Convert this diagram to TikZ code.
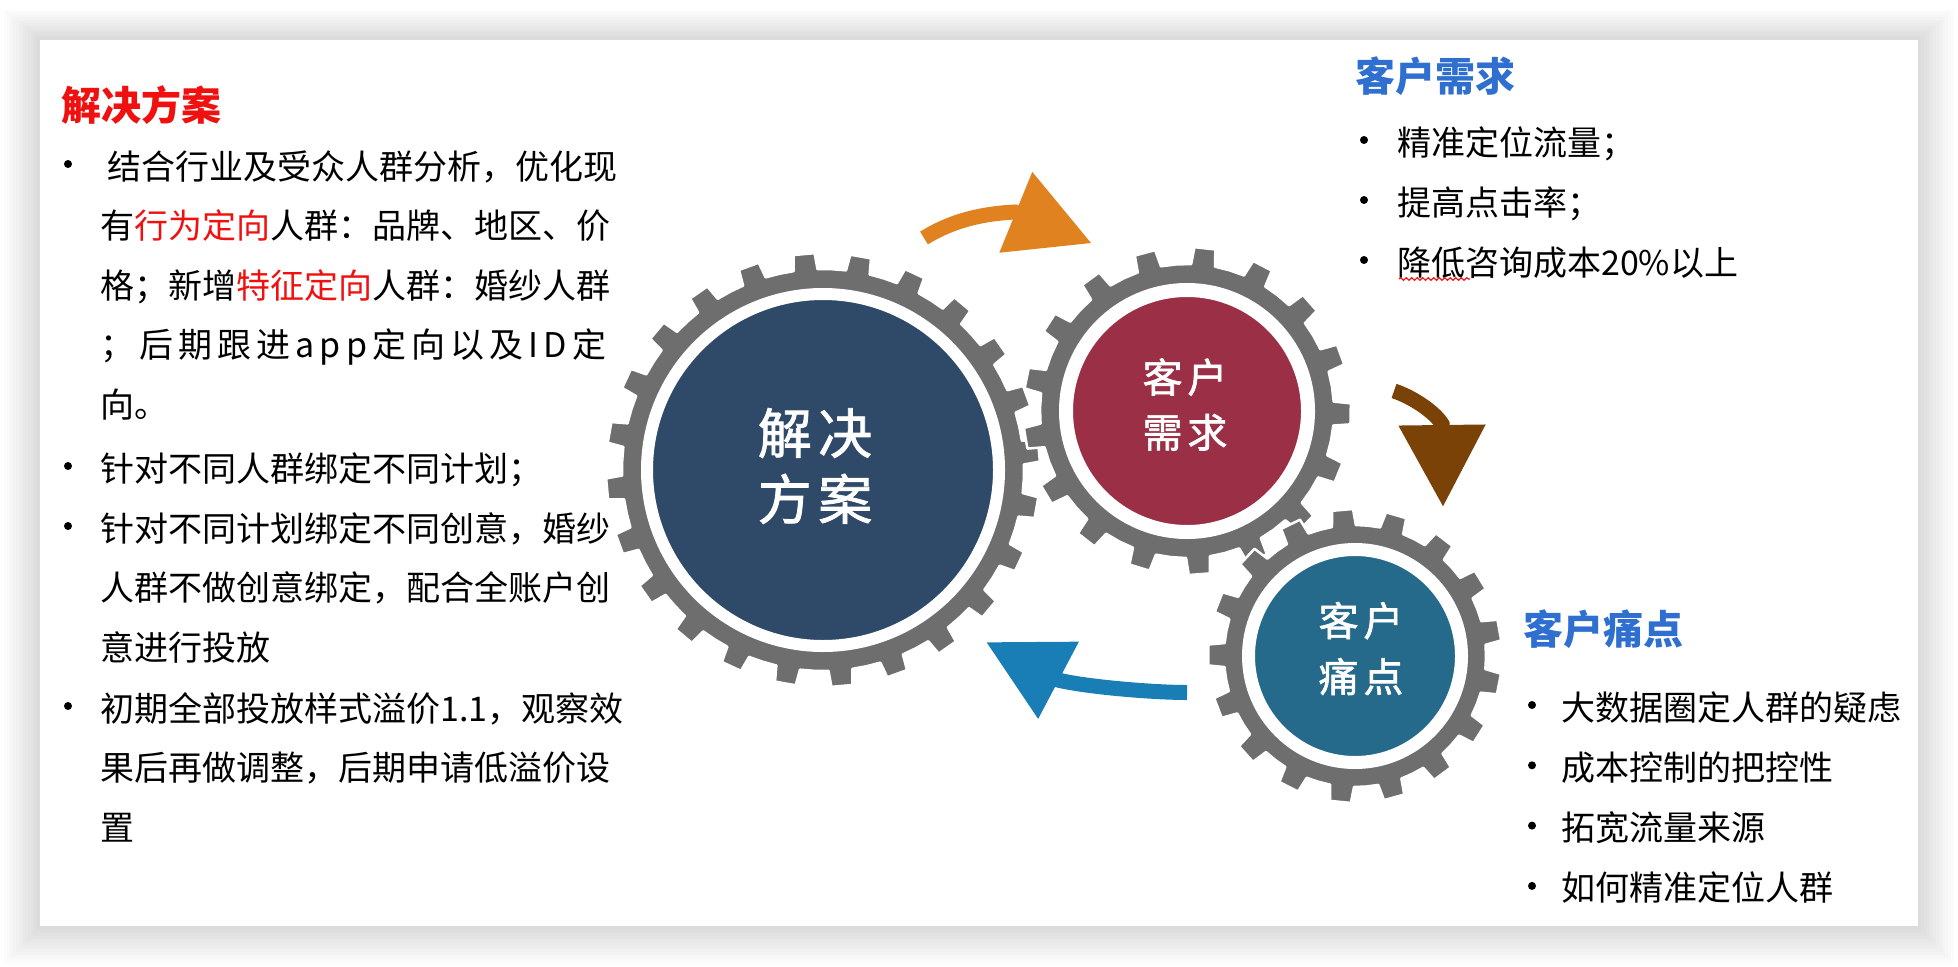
\documentclass[tikz,border=0pt]{standalone}
\usepackage{fontspec}
\setmainfont{Noto Sans CJK SC}
\newfontfamily\gearfont[LetterSpace=12, FakeBold=1.5]{Noto Sans CJK SC}
\newfontfamily\wideface[LetterSpace=15]{Noto Sans CJK SC}
\usetikzlibrary{arrows.meta, calc, decorations.pathmorphing}
\definecolor{cnavy}{HTML}{2E4A68}
\definecolor{cwine}{HTML}{9B2F45}
\definecolor{cteal}{HTML}{266A8B}
\definecolor{cgear}{HTML}{6E6E6E}
\definecolor{corange}{HTML}{E0821F}
\definecolor{cbrown}{HTML}{7A4207}
\definecolor{cblue}{HTML}{1A7EB6}
\definecolor{ctitle}{HTML}{2F6FD0}
\definecolor{cred}{HTML}{F01010}
\tikzset{
  gearbody/.style={fill=cgear, draw=white, line width=2.5pt, line join=round},
  hub/.style={circle, fill=#1, draw=white, inner sep=0pt},
  glabel/.style={text=white, align=center, inner sep=0pt},
  flow/.style={draw=#1, line width=15pt, -{Triangle[length=82pt, width=83pt]}},
  title/.style={anchor=base west, inner sep=0pt, font=\fontsize{40}{48}\selectfont\bfseries},
  body/.style={anchor=base west, inner sep=0pt, align=left, font=\fontsize{34}{59.5}\selectfont},
  bulletdot/.style={circle, fill=black, inner sep=0pt, minimum size=8pt},
  squiggle/.style={cred, line width=1.2pt, decorate, decoration={snake, amplitude=1.3pt, segment length=5.5pt}},
}
% gear outline: centre, teeth, phase, body radius, tip radius
\newcommand\gear[5]{%
  \path[gearbody, shift={#1}] ({#3-180/#2}:#4)
    \foreach \k in {0,...,\numexpr#2-1\relax}{
      -- ({#3+\k*360/#2-deg(12/#4)}:#4)
      -- ({#3+\k*360/#2-deg(10.5/#5)}:#5)
      -- ({#3+\k*360/#2+deg(10.5/#5)}:#5)
      -- ({#3+\k*360/#2+deg(12/#4)}:#4)
      -- ({#3+(\k+0.5)*360/#2}:#4)
    } -- cycle;}

\begin{document}
\begin{tikzpicture}[x=1pt, y=-1pt]
  \useasboundingbox (0,0) rectangle (1958,966);
  % card with soft shadow
  \foreach \k in {1,...,12}
    \fill[black, opacity=0.011] (40-3*\k,40-2.5*\k) rectangle (1918+3*\k,926+3.2*\k);
  \fill[white] (40,40) rectangle (1918,926);

  % cycle arrows
  \coordinate (o1) at (924,238);
  \coordinate (o2) at (1015,212);
  \coordinate (o3) at (1091.7,243.3);
  \coordinate (b1) at (1394,391);
  \coordinate (b2) at (1442,424);
  \coordinate (b3) at (1443,507);
  \coordinate (u1) at (1187,692.5);
  \coordinate (u2) at (1058,680);
  \coordinate (u3) at (986,642);
  \draw[flow=corange] (o1) .. controls +(29.8,-18.5) and +(-30,1.5) .. (o2) -- (o3);
  \draw[flow=cbrown] (b1) .. controls +(17,5.4) and +(-7.8,-12.7) .. (b2) -- (b3);
  \draw[flow=cblue] (u1) .. controls +(-35,0) and +(27,6.7) .. (u2) -- (u3);

  % gears
  \gear{(823,470)}{24}{10}{201}{217}
  \node[hub=cnavy, minimum size=352pt, line width=12pt] (plan) at (823,470) {};
  \gear{(1187,411)}{17}{1}{147}{164}
  \node[hub=cwine, minimum size=242pt, line width=14pt] (need) at (1187,411) {};
  \gear{(1355,656)}{17}{11}{131}{147}
  \node[hub=cteal, minimum size=213pt, line width=13pt] (pain) at (1355,656) {};
  \node[glabel, font=\gearfont\fontsize{54}{66}\selectfont] (tplan) at (815,466) {解决\\方案};
  \node[glabel, font=\gearfont\fontsize{40}{55}\selectfont] (tneed) at (1185,404.5) {客户\\需求};
  \node[glabel, font=\gearfont\fontsize{40}{56}\selectfont] (tpain) at (1361,648.5) {客户\\痛点};

  % solution text (base = last line)
  \node[title, text=cred] (hplan) at (61,120.5) {解决方案};
  \node[bulletdot] (ld1) at (68,164) {};
  \node[body] (lt1) at (100,417) {\hspace{7pt}结合行业及受众人群分析，优化现\\有{\color{cred}行为定向}人群：品牌、地区、价\\格；新增{\color{cred}特征定向}人群：婚纱人群\\{\wideface ；后期跟进app定向以及ID定}\\向。};
  \node[bulletdot] (ld2) at (68,466) {};
  \node[body] (lt2) at (100,481) {针对不同人群绑定不同计划；};
  \node[bulletdot] (ld3) at (68,526) {};
  \node[body] (lt3) at (100,660) {针对不同计划绑定不同创意，婚纱\\人群不做创意绑定，配合全账户创\\意进行投放};
  \node[bulletdot] (ld4) at (68,706) {};
  \node[body] (lt4) at (100,840) {初期全部投放样式溢价1.1，观察效\\果后再做调整，后期申请低溢价设\\置};

  % needs text
  \node[title, text=ctitle] (hneed) at (1355,91.5) {客户需求};
  \foreach \t [count=\i] in {精准定位流量；, 提高点击率；, 降低咨询成本20\%以上} {
    \node[bulletdot] (nd\i) at (1364,{140+60*(\i-1)}) {};
    \node[body] (nt\i) at (1397,{155+60*(\i-1)}) {\t};
  }
  \draw[squiggle] ($(nt3.base west)+(2,4)$) -- ++(71,0);

  % pain points text
  \node[title, text=ctitle] (hpain) at (1523,644) {客户痛点};
  \foreach \t [count=\i] in {大数据圈定人群的疑虑, 成本控制的把控性, 拓宽流量来源, 如何精准定位人群} {
    \node[bulletdot] (pd\i) at (1532,{705+60.3*(\i-1)}) {};
    \node[body] (pt\i) at (1561,{720+60.3*(\i-1)}) {\t};
  }
\end{tikzpicture}
\end{document}
